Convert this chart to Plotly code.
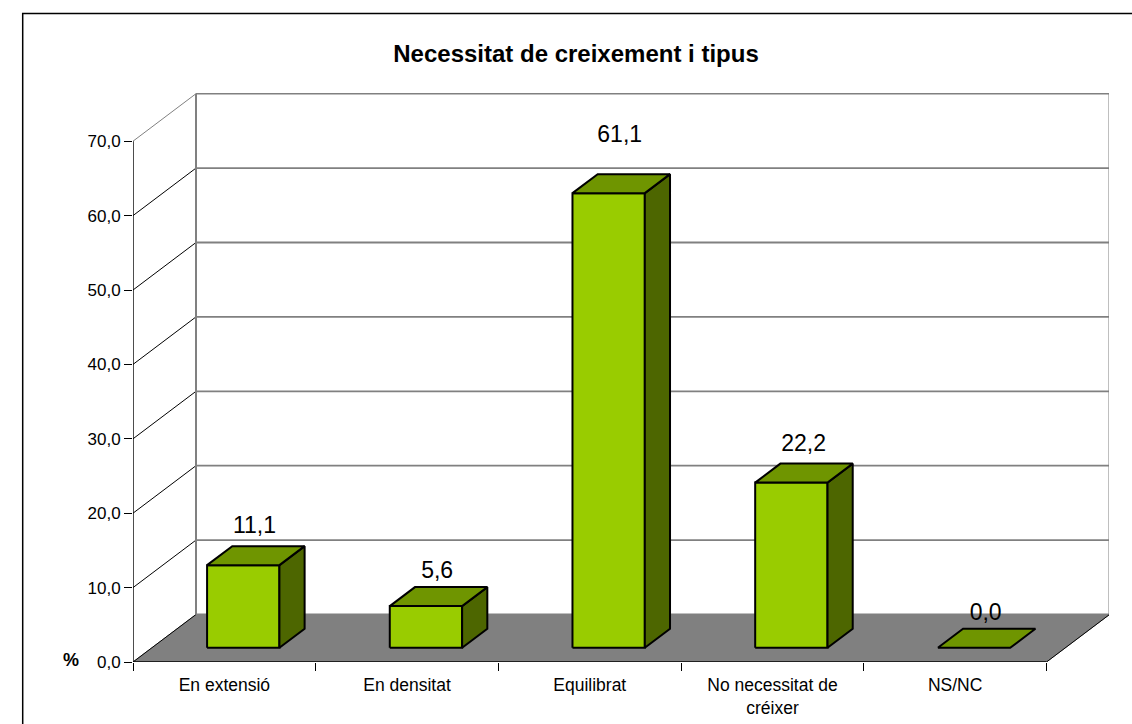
import plotly.graph_objects as go

# ---- data ----
categories = ["En extensió", "En densitat", "Equilibrat", "No necessitat de<br>créixer", "NS/NC"]
values = [11.1, 5.6, 61.1, 22.2, 0.0]
value_labels = ["11,1", "5,6", "61,1", "22,2", "0,0"]
y_ticks = [0, 10, 20, 30, 40, 50, 60, 70]
y_tick_labels = ["0,0", "10,0", "20,0", "30,0", "40,0", "50,0", "60,0", "70,0"]
title = "Necessitat de creixement i tipus"
y_unit = "%"

# ---- layout of the fake-3D box, in px ----
W, H = 1132, 724
LEFT, RIGHT, TOP, BOTTOM = 133.3, 1109.3, 93.0, 662.0
CAT_PX = 182.7
UNIT_PX = 7.44
X_MAX = (RIGHT - LEFT) / CAT_PX
Y_MAX = (BOTTOM - TOP) / UNIT_PX
DEPTH_X = 63.0 / CAT_PX       # category units for a full depth
DEPTH_Y = 47.5 / UNIT_PX      # value units for a full depth
N = len(categories)
VMAX = y_ticks[-1]

BAR_W = 0.396
D_FRONT, D_BACK = 0.30, 0.70
D_MID = 0.50

FRONT, TOPC, SIDE = "#99CC00", "#6F9500", "#4D6600"
GREY = "#808080"
FONT = "Liberation Sans, Arial, sans-serif"


def P(cat, val, depth=0.0):
    return cat + depth * DEPTH_X, val + depth * DEPTH_Y


def poly(points, fill, line="black", lw=2.0):
    xs, ys = zip(*(points + [points[0]]))
    return go.Scatter(x=xs, y=ys, mode="lines", fill="toself", fillcolor=fill, cliponaxis=False,
                      line=dict(color=line, width=lw), hoverinfo="skip", showlegend=False)


def seg(a, b, color, lw):
    return go.Scatter(x=[a[0], b[0]], y=[a[1], b[1]], mode="lines", cliponaxis=False,
                      line=dict(color=color, width=lw), hoverinfo="skip", showlegend=False)


fig = go.Figure()

# floor
fig.add_trace(poly([P(0, 0), P(N, 0), P(N, 0, 1), P(0, 0, 1)], GREY, GREY, 1))
# back wall edges and gridlines
for t in y_ticks:
    fig.add_trace(seg(P(0, t, 1), P(N, t, 1), GREY, 1.8))
    fig.add_trace(seg(P(0, t), P(0, t, 1), GREY if t == VMAX else "black", 1))
fig.add_trace(seg(P(0, 0, 1), P(0, VMAX, 1), GREY, 2))
fig.add_trace(seg(P(N, 0, 1), P(N, VMAX, 1), GREY, 2))
fig.add_trace(seg(P(N, 0), P(N, 0, 1), "black", 1))
# front axes
fig.add_trace(seg(P(0, 0), P(0, VMAX), "black", 1.4))
fig.add_trace(seg(P(0, 0), P(N, 0), "black", 1.4))

# bars
for i, v in enumerate(values):
    x0 = i + 0.5 - BAR_W / 2
    x1 = i + 0.5 + BAR_W / 2
    if v > 0:
        fig.add_trace(poly([P(x0, 0, D_FRONT), P(x1, 0, D_FRONT), P(x1, v, D_FRONT), P(x0, v, D_FRONT)], FRONT))
        fig.add_trace(poly([P(x1, 0, D_FRONT), P(x1, 0, D_BACK), P(x1, v, D_BACK), P(x1, v, D_FRONT)], SIDE))
    fig.add_trace(poly([P(x0, v, D_FRONT), P(x1, v, D_FRONT), P(x1, v, D_BACK), P(x0, v, D_BACK)], TOPC))

# value labels (offsets from the top of each bar, as placed in the source chart)
LABEL_LIFT = [2.42, 1.88, 4.97, 2.42, 1.88]
LABEL_SHIFT = [-0.011, -0.011, -0.012, -0.005, -0.009]
lx, ly = zip(*[P(i + 0.5 + LABEL_SHIFT[i], v + LABEL_LIFT[i] + (D_BACK - D_MID) * DEPTH_Y, D_MID + 0.01)
               for i, v in enumerate(values)])
fig.add_trace(go.Scatter(x=lx, y=ly, mode="text", text=value_labels, textposition="middle center",
                         textfont=dict(family=FONT, size=23, color="black"), cliponaxis=False,
                         hoverinfo="skip", showlegend=False))

fig.update_layout(
    width=W, height=H, autosize=False,
    paper_bgcolor="white", plot_bgcolor="white",
    margin=dict(l=LEFT, r=W - RIGHT, t=TOP, b=H - BOTTOM, pad=0),
    showlegend=False,
    font=dict(family=FONT, color="black", size=16),
    xaxis=dict(range=[0, X_MAX], showgrid=False, zeroline=False, showline=False, automargin=False,
               tickmode="array", tickvals=[i + 0.5 for i in range(N)], ticktext=categories,
               ticks="outside", ticklen=7, tickcolor="rgba(0,0,0,0)", tickfont=dict(size=17.5), tickangle=0,
               minor=dict(tickmode="array", tickvals=list(range(N + 1)), ticks="outside",
                          ticklen=8, tickcolor="black", tickwidth=1, showgrid=False)),
    yaxis=dict(range=[0, Y_MAX], showgrid=False, zeroline=False, showline=False, automargin=False,
               tickmode="array", tickvals=y_ticks, ticktext=y_tick_labels,
               ticks="outside", ticklen=8, tickcolor="black", tickwidth=1, tickfont=dict(size=17)),
    title=dict(text=f"<b>{title}</b>", x=576 / W, xanchor="center", y=1 - 54 / H, yanchor="middle",
               font=dict(family=FONT, size=24, color="black")),
    annotations=[dict(text=f"<b>{y_unit}</b>", xref="paper", yref="paper",
                      x=(71 - LEFT) / (RIGHT - LEFT), y=2.5 / (BOTTOM - TOP), yanchor="middle", xanchor="center",
                      showarrow=False, font=dict(size=18, color="black"))],
    shapes=[dict(type="rect", xref="paper", yref="paper",
                 x0=(23 - LEFT) / (RIGHT - LEFT), x1=(1200 - LEFT) / (RIGHT - LEFT),
                 y0=(BOTTOM - 760) / (BOTTOM - TOP), y1=(BOTTOM - 13.5) / (BOTTOM - TOP),
                 line=dict(color="black", width=1.5), fillcolor="rgba(0,0,0,0)", layer="above")],
)

fig.write_html("out.html", config={"displayModeBar": False},
               post_script="document.body.style.margin='0';document.body.style.overflow='hidden';")
